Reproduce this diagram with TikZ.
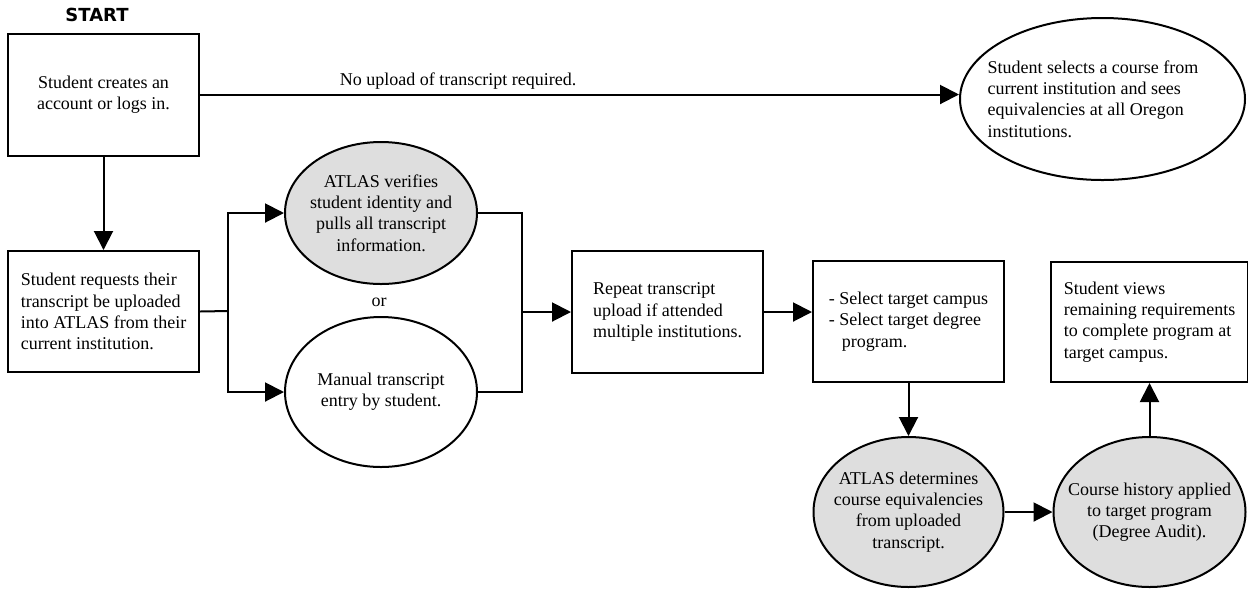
\documentclass[tikz,border=0pt]{standalone}
\usepackage{fontspec}
\setmainfont{Liberation Serif}
\newfontfamily\headfont{DejaVu Sans}
\usetikzlibrary{shapes.geometric,arrows.meta}
\begin{document}
\begin{tikzpicture}[x=0.5pt,y=-0.5pt,line width=1pt,
  procbox/.style={draw, rectangle, minimum width=95.5pt, minimum height=61pt, inner xsep=6.5pt, align=left, font=\fontsize{9pt}{10.6pt}\selectfont},
  oval/.style={draw, ellipse, inner xsep=-8pt, inner ysep=0pt, align=center, font=\fontsize{9pt}{10.6pt}\selectfont},
  greyoval/.style={oval, fill=black!13},
  arr/.style={-{Triangle[length=9.5pt,width=9.5pt]}}]
\useasboundingbox (0,0) rectangle (1248,591);

\node[font=\headfont\bfseries\fontsize{9pt}{11pt}\selectfont] (start) at (97,15) {START};
\node[procbox, align=center] (login) at (103.5,94.5) {Student creates an\\account or logs in.};
\node[oval, align=left, minimum width=142.5pt, minimum height=81pt] (selects) at (1102.5,99) {\makebox[115pt][l]{Student selects a course from}\\current institution and sees\\equivalencies at all Oregon\\institutions.};
\node[procbox, minimum height=60.5pt] (request) at (103.5,311.5) {Student requests their\\transcript be uploaded\\into ATLAS from their\\current institution.};
\node[greyoval, minimum width=96pt, minimum height=71pt] (verify) at (381,213) {ATLAS verifies\\student identity and\\pulls all transcript\\information.};
\node[font=\fontsize{9pt}{10.6pt}\selectfont] (ortext) at (379,302) {or};
\node[oval, minimum width=96pt, minimum height=75pt] (manual) at (381,392) {Manual transcript\\entry by student.};
\node[procbox] (repeat) at (667.5,312) {Repeat transcript\\upload if attended\\multiple institutions.};
\node[procbox, minimum height=60.5pt] (select) at (908.5,321.5) {- Select target campus\\- Select target degree\\\hspace*{6.5pt}program.};
\node[greyoval, minimum width=95pt, minimum height=75pt] (determine) at (908.5,512) {ATLAS determines\\course equivalencies\\from uploaded\\transcript.};
\node[greyoval, minimum width=96pt, minimum height=75pt] (history) at (1149.5,512) {Course history applied\\to target program\\(Degree Audit).};
\node[procbox, minimum height=60pt] (views) at (1149.5,322) {Student views\\remaining requirements\\to complete program at\\target campus.};

\coordinate (split) at (228,311);
\coordinate (join) at (522,312);

\draw[arr] (login.east) -- (login.east -| selects.west) node[pos=.34, above=2pt, inner sep=0pt, font=\fontsize{9pt}{10.6pt}\selectfont] (noupload) {No upload of transcript required.};
\draw[arr] (login) -- (request);
\draw (request.east) -- (split);
\draw[arr] (split) |- (verify.west);
\draw[arr] (split) |- (manual.west);
\draw (verify.east) -| (join);
\draw (manual.east) -| (join);
\draw[arr] (join) -- (repeat);
\draw[arr] (repeat.east) -- (repeat.east -| select.west);
\draw[arr] (select) -- (determine);
\draw[arr] (determine) -- (history);
\draw[arr] (history) -- (views);
\end{tikzpicture}
\end{document}
